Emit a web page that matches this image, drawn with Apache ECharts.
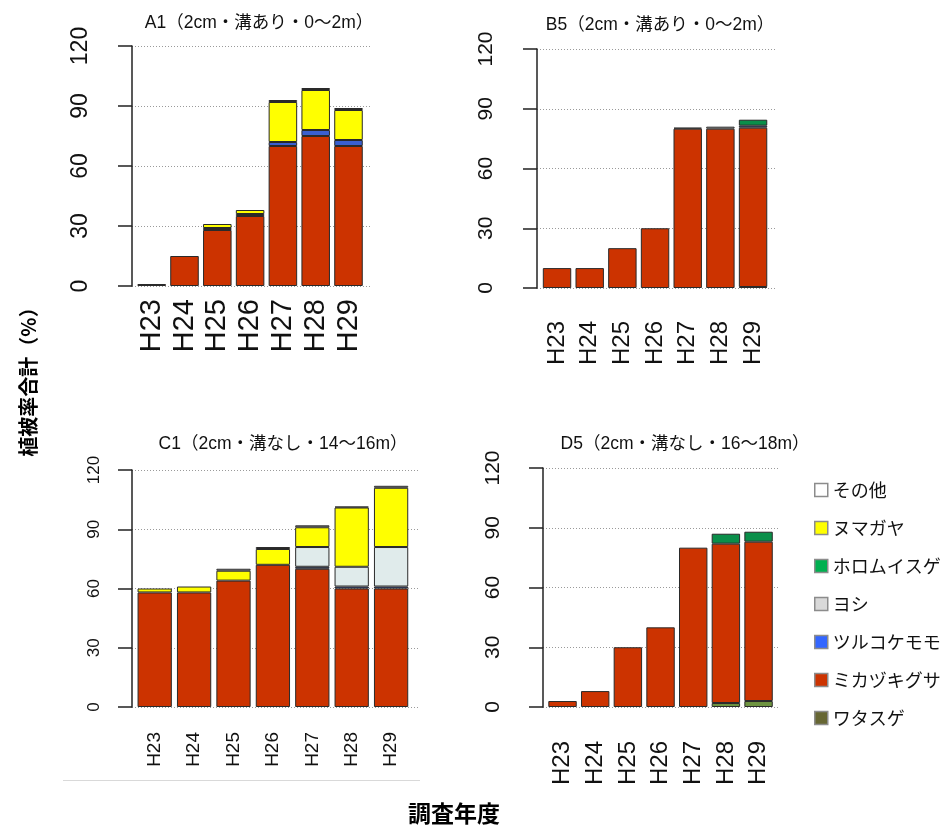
<!DOCTYPE html>
<html>
<head>
<meta charset="utf-8">
<script src="https://cdn.jsdelivr.net/npm/echarts@6/dist/echarts.min.js"></script>
<style>
  html, body { margin: 0; padding: 0; background: #fff; }
  #chart { width: 950px; height: 826px; }
</style>
</head>
<body>
<div id="chart"></div>
<script>
// Survey years (category axis)
const years = ['H23', 'H24', 'H25', 'H26', 'H27', 'H28', 'H29'];
// Value axis ticks
const yTicks = [0, 30, 60, 90, 120];

// Species in stacking order, bottom to top
const species = ['ワタスゲ', 'ミカヅキグサ', 'ツルコケモモ', 'ヨシ', 'ホロムイスゲ', 'ヌマガヤ', 'その他'];
// Legend order, top to bottom
const legendOrder = ['その他', 'ヌマガヤ', 'ホロムイスゲ', 'ヨシ', 'ツルコケモモ', 'ミカヅキグサ', 'ワタスゲ'];

// Cover (%) per species — plot A1
const a1Watasuge   = [0, 0, 0, 0, 0, 0, 0];
const a1Mikazuki   = [1, 15, 28, 35, 70, 75, 70];
const a1Tsuruko    = [0, 0, 1, 1, 2, 3, 3];
const a1Yoshi      = [0, 0, 0, 0, 0, 0, 0];
const a1Horomui    = [0, 0, 0, 0, 0, 0, 0];
const a1Numagaya   = [0, 0, 2, 2, 20, 20, 15];
const a1Other      = [0, 0, 0, 0, 1, 1, 1];

// Plot B5
const b5Watasuge   = [0, 0, 0, 0, 0, 0, 0.5];
const b5Mikazuki   = [10, 10, 20, 30, 80, 80, 80];
const b5Tsuruko    = [0, 0, 0, 0, 0, 0, 1];
const b5Yoshi      = [0, 0, 0, 0, 0, 0, 0];
const b5Horomui    = [0, 0, 0, 0, 0, 0, 3];
const b5Numagaya   = [0, 0, 0, 0, 0, 0, 0];
const b5Other      = [0, 0, 0, 0, 0.5, 1, 0];

// Plot C1
const c1Watasuge   = [0, 0, 0, 0, 0, 0, 0];
const c1Mikazuki   = [58, 58, 64, 72, 70, 60, 60];
const c1Tsuruko    = [0, 0, 0, 0, 1, 1, 1];
const c1Yoshi      = [0, 0, 0, 0, 10, 10, 20];
const c1Horomui    = [0, 0, 0, 0, 0, 0, 0];
const c1Numagaya   = [2, 3, 5, 8, 10, 30, 30];
const c1Other      = [0, 0, 1, 1, 1, 0.5, 1];

// Plot D5
const d5Watasuge   = [0, 0, 0, 0, 0, 2, 3];
const d5Mikazuki   = [3, 8, 30, 40, 80, 80, 80];
const d5Tsuruko    = [0, 0, 0, 0, 0, 0, 0];
const d5Yoshi      = [0, 0, 0, 0, 0, 0, 0];
const d5Horomui    = [0, 0, 0, 0, 0, 5, 5];
const d5Numagaya   = [0, 0, 0, 0, 0, 0, 0];
const d5Other      = [0, 0, 0, 0, 0, 0, 0];

const plotTitles = ['A1（2cm・溝あり・0～2m）', 'B5（2cm・溝あり・0～2m）',
                    'C1（2cm・溝なし・14～16m）', 'D5（2cm・溝なし・16～18m）'];
const plotValues = [
  [a1Watasuge, a1Mikazuki, a1Tsuruko, a1Yoshi, a1Horomui, a1Numagaya, a1Other],
  [b5Watasuge, b5Mikazuki, b5Tsuruko, b5Yoshi, b5Horomui, b5Numagaya, b5Other],
  [c1Watasuge, c1Mikazuki, c1Tsuruko, c1Yoshi, c1Horomui, c1Numagaya, c1Other],
  [d5Watasuge, d5Mikazuki, d5Tsuruko, d5Yoshi, d5Horomui, d5Numagaya, d5Other]
];

// Fill colours for the bars and for the legend swatches
const barColors = {
  'ワタスゲ': '#6E9440', 'ミカヅキグサ': '#CC3300', 'ツルコケモモ': '#3A5FD0',
  'ヨシ': '#E0EBEB', 'ホロムイスゲ': '#0A8F4A', 'ヌマガヤ': '#FFFF00', 'その他': '#FFFFFF'
};
const swatchColors = {
  'ワタスゲ': '#666633', 'ミカヅキグサ': '#CC3300', 'ツルコケモモ': '#3366FF',
  'ヨシ': '#D9D9D9', 'ホロムイスゲ': '#00B050', 'ヌマガヤ': '#FFFF00', 'その他': '#FFFFFF'
};

// Panel geometry (pixels)
const panels = [
  { titleX: 254, titleY: 9,   gl: 132, gr: 370, bl: 135.3, br: 364.9, top: 46,  bottom: 286, off: 4, yFont: 23, yMargin: 36, xFont: 29, xMargin: 13 },
  { titleX: 655, titleY: 11,  gl: 537, gr: 775, bl: 540.7, br: 769.4, top: 49,  bottom: 288, off: 4, yFont: 21, yMargin: 36, xFont: 24, xMargin: 33 },
  { titleX: 278, titleY: 430, gl: 132, gr: 418, bl: 135.0, br: 410.8, top: 470, bottom: 707, off: 4, yFont: 17, yMargin: 25, xFont: 19, xMargin: 25 },
  { titleX: 680, titleY: 430, gl: 543, gr: 780, bl: 546.2, br: 774.9, top: 468, bottom: 707, off: 3, yFont: 21, yMargin: 36, xFont: 24, xMargin: 34 }
];

const FONT = "'Liberation Sans', Arial, 'Noto Sans CJK JP', sans-serif";
const CJK = "'Noto Sans CJK JP', 'Liberation Sans', sans-serif";

const grid = [], xAxis = [], yAxis = [], series = [], title = [];

panels.forEach((p, i) => {
  const h = p.bottom - p.top;
  // background grid: value axis line, ticks, labels and dotted reference lines
  grid.push({ left: p.gl, top: p.top, width: p.gr - p.gl, height: h });
  // bar grid
  grid.push({ left: p.bl, top: p.top, width: p.br - p.bl, height: h });

  xAxis.push({ gridIndex: 2 * i, type: 'value', show: false, min: 0, max: 1 });
  yAxis.push({
    gridIndex: 2 * i, type: 'value',
    min: yTicks[0], max: yTicks[yTicks.length - 1], interval: yTicks[1] - yTicks[0],
    offset: p.off,
    axisLine: { show: true, lineStyle: { color: '#222', width: 1.5 } },
    axisTick: { show: true, inside: false, length: 14, lineStyle: { color: '#222', width: 1.5 } },
    axisLabel: { rotate: 90, fontSize: p.yFont, margin: p.yMargin, color: '#111', fontFamily: FONT },
    splitLine: { show: true, lineStyle: { color: '#9a9a9a', type: [1, 2], width: 1 } }
  });

  xAxis.push({
    gridIndex: 2 * i + 1, type: 'category', data: years,
    axisLine: { show: false }, axisTick: { show: false },
    axisLabel: { rotate: 90, fontSize: p.xFont, margin: p.xMargin, color: '#111', fontFamily: FONT, interval: 0 }
  });
  yAxis.push({
    gridIndex: 2 * i + 1, type: 'value', show: false,
    min: yTicks[0], max: yTicks[yTicks.length - 1], splitLine: { show: false }
  });

  species.forEach((name, k) => {
    series.push({
      type: 'bar', name: name, stack: 'plot' + i,
      xAxisIndex: 2 * i + 1, yAxisIndex: 2 * i + 1,
      barCategoryGap: '13%',
      itemStyle: { color: barColors[name], borderColor: '#2a2a2a', borderWidth: 1 },
      data: plotValues[i][k].map(v => (v === 0 ? null : v)),
      emphasis: { disabled: true },
      animation: false
    });
  });

  title.push({
    text: plotTitles[i], left: p.titleX, top: p.titleY, textAlign: 'center',
    textStyle: { fontSize: 17.5, fontWeight: 'normal', color: '#111', fontFamily: FONT }
  });
});

title.push({
  text: '調査年度', left: 449, top: 797, textAlign: 'center',
  textStyle: { fontSize: 23, fontWeight: 'bold', color: '#000', fontFamily: CJK }
});

const chart = echarts.init(document.getElementById('chart'), null, { renderer: 'canvas' });
chart.setOption({
  backgroundColor: '#ffffff',
  animation: false,
  title: title,
  grid: grid,
  xAxis: xAxis,
  yAxis: yAxis,
  series: series,
  legend: {
    orient: 'vertical', left: 814, top: 481, padding: 0,
    icon: 'rect', itemWidth: 13, itemHeight: 13, itemGap: 20,
    selectedMode: false,
    textStyle: { fontSize: 18, color: '#111', fontFamily: CJK },
    data: legendOrder.map(n => ({
      name: n,
      itemStyle: { color: swatchColors[n], borderColor: '#8c8c8c', borderWidth: 1.5 }
    }))
  },
  graphic: [
    {
      type: 'text', x: 28, y: 377, rotation: Math.PI / 2,
      style: { text: '植被率合計（%）', font: "bold 20px 'Noto Sans CJK JP', sans-serif",
               fill: '#000', align: 'center', verticalAlign: 'middle' }
    },
    {
      type: 'line', shape: { x1: 63, y1: 780.5, x2: 420, y2: 780.5 },
      style: { stroke: '#d9d9d9', lineWidth: 1 }
    }
  ]
});
</script>
</body>
</html>
